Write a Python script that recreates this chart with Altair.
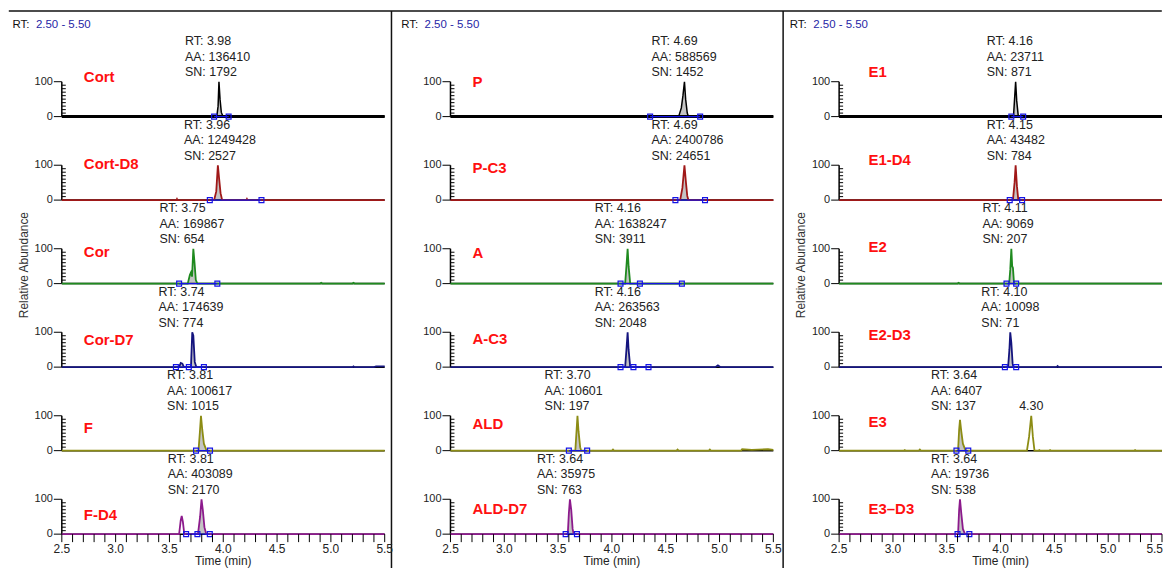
import altair as alt
import pandas as pd

FONT = "Liberation Sans"

# ---------------- data ----------------
compounds = [
    ["Cort", "Cort-D8", "Cor", "Cor-D7", "F", "F-D4"],
    ["P", "P-C3", "A", "A-C3", "ALD", "ALD-D7"],
    ["E1", "E1-D4", "E2", "E2-D3", "E3", "E3\u2013D3"],
]
rt_values = [
    ["3.98", "3.96", "3.75", "3.74", "3.81", "3.81"],
    ["4.69", "4.69", "4.16", "4.16", "3.70", "3.64"],
    ["4.16", "4.15", "4.11", "4.10", "3.64", "3.64"],
]
aa_values = [
    [136410, 1249428, 169867, 174639, 100617, 403089],
    [588569, 2400786, 1638247, 263563, 10601, 35975],
    [23711, 43482, 9069, 10098, 6407, 19736],
]
sn_values = [
    [1792, 2527, 654, 774, 1015, 2170],
    [1452, 24651, 3911, 2048, 197, 763],
    [871, 784, 207, 71, 137, 538],
]

# chromatogram traces: [time (min), relative abundance]
trace_cort = [[2.5, 0], [3.94, 0], [3.952, 30], [3.96, 100], [3.97, 50], [3.982, 12], [3.998, 0], [5.5, 0]]
trace_cort_d8 = [[2.5, 0], [3.565, 0], [3.57, 3], [3.575, 0], [3.915, 0], [3.935, 25], [3.95, 100],
                 [3.962, 60], [3.975, 20], [3.99, 0], [4.215, 0], [4.22, 3], [4.225, 0], [5.5, 0]]
trace_cor = [[2.5, 0], [3.67, 0], [3.69, 25], [3.70, 32], [3.71, 20], [3.722, 100], [3.733, 60],
             [3.745, 10], [3.76, 0], [4.9, 0], [4.91, 2], [4.92, 0], [5.2, 0], [5.21, 2], [5.22, 0], [5.5, 0]]
trace_cor_d7 = [[2.5, 0], [3.59, 0], [3.605, 12], [3.62, 10], [3.635, 0], [3.70, 0], [3.712, 100],
                [3.722, 90], [3.735, 15], [3.75, 0], [5.2, 0], [5.21, 2], [5.22, 0], [5.4, 0], [5.42, 2], [5.5, 2]]
trace_f = [[2.5, 0], [3.77, 0], [3.782, 50], [3.793, 100], [3.805, 60], [3.82, 20], [3.845, 0], [5.5, 0]]
trace_f_d4 = [[2.5, 0], [3.59, 0], [3.605, 40], [3.614, 52], [3.625, 35], [3.638, 0], [3.765, 0],
              [3.785, 50], [3.798, 100], [3.81, 70], [3.825, 20], [3.842, 0], [5.5, 0]]

trace_p = [[2.5, 0], [4.62, 0], [4.645, 25], [4.66, 60], [4.674, 100], [4.685, 50], [4.70, 10], [4.711, 0],
           [5.0, 0], [5.01, 2], [5.02, 0], [5.35, 0], [5.36, 2], [5.4, 2], [5.42, 0], [5.5, 0]]
trace_p_c3 = [[2.5, 0], [4.634, 0], [4.655, 35], [4.674, 100], [4.688, 50], [4.70, 12], [4.711, 0], [5.5, 0]]
trace_a = [[2.5, 0], [4.123, 0], [4.135, 50], [4.146, 100], [4.155, 50], [4.17, 0], [5.5, 0]]
trace_a_c3 = [[2.5, 0], [4.123, 0], [4.135, 50], [4.146, 100], [4.155, 50], [4.17, 0],
              [4.96, 0], [4.985, 5], [5.01, 0], [5.5, 0]]
trace_ald = [[2.5, 0], [3.66, 0], [3.672, 60], [3.68, 100], [3.69, 55], [3.705, 10], [3.715, 0],
             [4.0, 0], [4.01, 3], [4.02, 0], [4.6, 0], [4.61, 3], [4.62, 0], [4.9, 0], [4.91, 3],
             [4.92, 0], [5.2, 0], [5.21, 4], [5.3, 2], [5.45, 4], [5.5, 2]]
trace_ald_d7 = [[2.5, 0], [3.59, 0], [3.60, 60], [3.61, 100], [3.622, 70], [3.635, 15], [3.645, 0], [5.5, 0]]

trace_e1 = [[2.5, 0], [4.12, 0], [4.132, 60], [4.14, 100], [4.15, 45], [4.165, 0], [5.5, 0]]
trace_e1_d4 = [[2.5, 0], [4.115, 0], [4.13, 50], [4.14, 100], [4.152, 40], [4.165, 0], [5.5, 0]]
trace_e2 = [[2.5, 0], [3.6, 0], [3.61, 2], [3.62, 0], [4.08, 0], [4.09, 40], [4.10, 100],
            [4.108, 50], [4.115, 45], [4.125, 0], [5.5, 0]]
trace_e2_d3 = [[2.5, 0], [4.07, 0], [4.082, 50], [4.09, 100], [4.10, 70], [4.112, 10], [4.12, 0],
               [4.52, 0], [4.53, 3], [4.54, 0], [5.5, 0]]
trace_e3 = [[2.5, 0], [3.1, 0], [3.11, 2], [3.12, 0], [3.24, 0], [3.25, 3], [3.26, 0], [3.605, 0],
            [3.615, 60], [3.623, 88], [3.635, 55], [3.65, 20], [3.675, 0], [4.245, 0], [4.265, 40],
            [4.285, 100], [4.30, 40], [4.315, 0], [4.35, 0], [4.36, 2], [4.37, 0], [4.45, 0],
            [4.46, 2], [4.47, 0], [5.24, 0], [5.25, 2], [5.26, 0], [5.5, 0]]
trace_e3_d3 = [[2.5, 0], [3.605, 0], [3.615, 70], [3.623, 100], [3.635, 60], [3.65, 15], [3.67, 0], [5.5, 0]]

traces = [
    [trace_cort, trace_cort_d8, trace_cor, trace_cor_d7, trace_f, trace_f_d4],
    [trace_p, trace_p_c3, trace_a, trace_a_c3, trace_ald, trace_ald_d7],
    [trace_e1, trace_e1_d4, trace_e2, trace_e2_d3, trace_e3, trace_e3_d3],
]

# integration boundary markers (blue squares), time in min
markers = [
    [[3.915, 4.05], [3.875, 4.355], [3.59, 3.945], [3.56, 3.68, 3.82], [3.747, 3.877], [3.655, 3.76, 3.875]],
    [[4.355, 4.82], [4.59, 4.865], [4.08, 4.26, 4.65], [4.08, 4.20, 4.34], [3.60, 3.77], [3.57, 3.675]],
    [[4.10, 4.21], [4.085, 4.20], [4.055, 4.145], [4.04, 4.145], [3.59, 3.70], [3.60, 3.71]],
]

# extra apex labels: column, row, time, text
extra_labels = [[2, 4, 4.285, "4.30"]]

x_tick_values = [round(2.5 + 0.1 * i, 1) for i in range(31)]
x_label_values = [2.5, 3.0, 3.5, 4.0, 4.5, 5.0, 5.5]
y_label_values = [0, 100]
y_minor_values = [10, 20, 30, 40, 50, 60, 70, 80, 90]
range_text = "2.50 - 5.50"

# ---------------- styling / layout ----------------
row_colors = ["#000000", "#a01818", "#1f8a1f", "#14147e", "#8c8c14", "#8c1a8c"]
BLUE = "#1414e6"
PANEL_W = 324
ROW_H = 35
ROW_GAP = 48.8
COL_GAP = 66
col_left_page = [61.2, 451.2, 841.2]
divider_page_x = [0, 392, 785]
label_x = [22.1, 22.1, 29.5]
label_y0 = [-5, 0.7, -9.3]
label_step = [4.2, 1.9, 3.9]
ann_dx = [-34, -33, -29]
LINE_H = 15.5
BOTTOM_REL = 488  # lowest drawn point, relative to the top of the first row

one = alt.Data(values=[{"a": 1}])
XS = alt.Scale(domain=[2.5, 5.5], nice=False, zero=False)
YS = alt.Scale(domain=[0, 100], nice=False, zero=False)
Xn = alt.X("t:Q", scale=XS, axis=None)
Yn = alt.Y("v:Q", scale=YS, axis=None)


def panel(c, r):
    tr = pd.DataFrame(traces[c][r], columns=["t", "v"])
    mk = markers[c][r]
    lo, hi = min(mk), max(mk)
    inside = tr[(tr.t >= lo) & (tr.t <= hi)]
    apex = float(inside.loc[inside.v.idxmax(), "t"])
    color = row_colors[r]

    layers = []
    # integrated peak fill
    layers.append(alt.Chart(tr).transform_filter(f"datum.t >= {lo} && datum.t <= {hi}")
                  .mark_area(color="#c4c4c4", interpolate="linear").encode(x=Xn, y=Yn))
    # x baseline (axis line)
    layers.append(alt.Chart(pd.DataFrame({"t": [2.5], "t2": [5.5], "v": [0]}))
                  .mark_rule(color="black", strokeWidth=3 if r == 0 else 1.5)
                  .encode(x=Xn, x2="t2:Q", y=Yn))
    # y axis line, ticks and labels
    layers.append(alt.Chart(pd.DataFrame({"v": [0], "v2": [100]}))
                  .mark_rule(color="black", strokeWidth=1.5)
                  .encode(x=alt.value(0), y=Yn, y2="v2:Q"))
    layers.append(alt.Chart(pd.DataFrame({"v": y_label_values}))
                  .mark_rule(color="black", strokeWidth=1)
                  .encode(x=alt.value(-8), x2=alt.value(0), y=Yn))
    layers.append(alt.Chart(pd.DataFrame({"v": y_minor_values}))
                  .mark_rule(color="black", strokeWidth=1)
                  .encode(x=alt.value(0), x2=alt.value(4), y=Yn))
    layers.append(alt.Chart(pd.DataFrame({"v": y_label_values}))
                  .mark_text(align="right", baseline="middle", fontSize=11, font=FONT, color="#222")
                  .encode(x=alt.value(-9), y=Yn, text="v:Q"))
    # trace
    layers.append(alt.Chart(tr).mark_line(color=color, strokeWidth=1.5 if r == 0 else 1.8,
                                          interpolate="linear").encode(x=Xn, y=Yn))
    # integration markers
    layers.append(alt.Chart(pd.DataFrame({"t": [lo], "t2": [hi], "v": [0]}))
                  .mark_rule(color=BLUE, strokeWidth=1.2).encode(x=Xn, x2="t2:Q", y=Yn))
    layers.append(alt.Chart(pd.DataFrame({"t": mk, "v": [0] * len(mk)}))
                  .mark_point(shape="square", filled=False, color=BLUE, size=24, strokeWidth=1.2, opacity=1)
                  .encode(x=Xn, y=Yn))
    # peak annotation (three lines, block ending just above the apex)
    txt = f"RT: {rt_values[c][r]}\nAA: {aa_values[c][r]}\nSN: {sn_values[c][r]}"
    layers.append(alt.Chart(pd.DataFrame({"t": [apex], "v": [100], "txt": [txt]}))
                  .mark_text(align="left", baseline="top", dx=ann_dx[c], dy=-(3 + 2 * LINE_H + 12.5),
                             fontSize=12.5, lineHeight=LINE_H, lineBreak="\n", font=FONT, color="#222")
                  .encode(x=Xn, y=Yn, text="txt:N"))
    for ec, er, et, etext in extra_labels:
        if ec == c and er == r:
            layers.append(alt.Chart(pd.DataFrame({"t": [et], "v": [100], "txt": [etext]}))
                          .mark_text(align="center", baseline="bottom", dy=-3, fontSize=12.5,
                                     font=FONT, color="#222")
                          .encode(x=Xn, y=Yn, text="txt:N"))
    # compound name
    layers.append(alt.Chart(one).mark_text(align="left", baseline="middle", fontSize=15, fontWeight="bold",
                                           color="#ff1010", font=FONT, text=compounds[c][r])
                  .encode(x=alt.value(label_x[c]), y=alt.value(label_y0[c] + label_step[c] * r)))

    if r == 5:
        layers.append(alt.Chart(pd.DataFrame({"t": x_tick_values}))
                      .mark_rule(color="black", strokeWidth=1)
                      .encode(x=Xn, y=alt.value(ROW_H), y2=alt.value(ROW_H + 8)))
        inner = x_label_values if c < 2 else x_label_values[:-1]
        layers.append(alt.Chart(pd.DataFrame({"t": inner}))
                      .mark_text(align="center", baseline="top", fontSize=12, font=FONT, color="#222")
                      .encode(x=Xn, y=alt.value(ROW_H + 10), text=alt.Text("t:Q", format=".1f")))
        if c == 2:
            # last label of the right-most panel kept inside the page edge
            layers.append(alt.Chart(pd.DataFrame({"t": x_label_values[-1:]}))
                          .mark_text(align="right", baseline="top", dx=1, fontSize=12, font=FONT, color="#222")
                          .encode(x=Xn, y=alt.value(ROW_H + 10), text=alt.Text("t:Q", format=".1f")))
        layers.append(alt.Chart(one).mark_text(align="center", baseline="bottom", fontSize=12, font=FONT,
                                               color="#222", text="Time (min)")
                      .encode(x=alt.value(PANEL_W / 2), y=alt.value(ROW_H + 34)))

    if r == 0:
        layers.append(alt.Chart(one).mark_text(align="left", baseline="middle", fontSize=11.5,
                                               color="#111", font=FONT, text="RT:")
                      .encode(x=alt.value(-49.5), y=alt.value(-57)))
        layers.append(alt.Chart(one).mark_text(align="left", baseline="middle", fontSize=11.5,
                                               color="#2626a6", font=FONT, text=range_text)
                      .encode(x=alt.value(-26), y=alt.value(-57)))
        if c == 0:
            layers.append(alt.Chart(one).mark_rule(color="#111", strokeWidth=1.5)
                          .encode(x=alt.value(8 - col_left_page[0]), x2=alt.value(1165 - col_left_page[0]),
                                  y=alt.value(-71)))
        else:
            layers.append(alt.Chart(one).mark_rule(color="#111", strokeWidth=1.5)
                          .encode(x=alt.value(divider_page_x[c] - col_left_page[c]), y=alt.value(-71),
                                  y2=alt.value(BOTTOM_REL)))
    if r == 2 and c in (0, 2):
        layers.append(alt.Chart(one).mark_text(align="center", baseline="middle", angle=270, fontSize=12,
                                               color="#333", font=FONT, text="Relative Abundance")
                      .encode(x=alt.value(-38), y=alt.value(16.4)))

    return alt.layer(*layers).properties(width=PANEL_W, height=ROW_H)


panels = [panel(c, r) for r in range(6) for c in range(3)]

chart = (
    alt.concat(*panels, columns=3, spacing={"row": ROW_GAP, "column": COL_GAP}, bounds="flush")
    .properties(padding={"left": 0, "top": 1, "right": 0, "bottom": 0}, background="white")
    .configure(font=FONT)
    .configure_view(stroke=None)
)

chart.save("out.html", embed_options={"renderer": "svg", "actions": False})
